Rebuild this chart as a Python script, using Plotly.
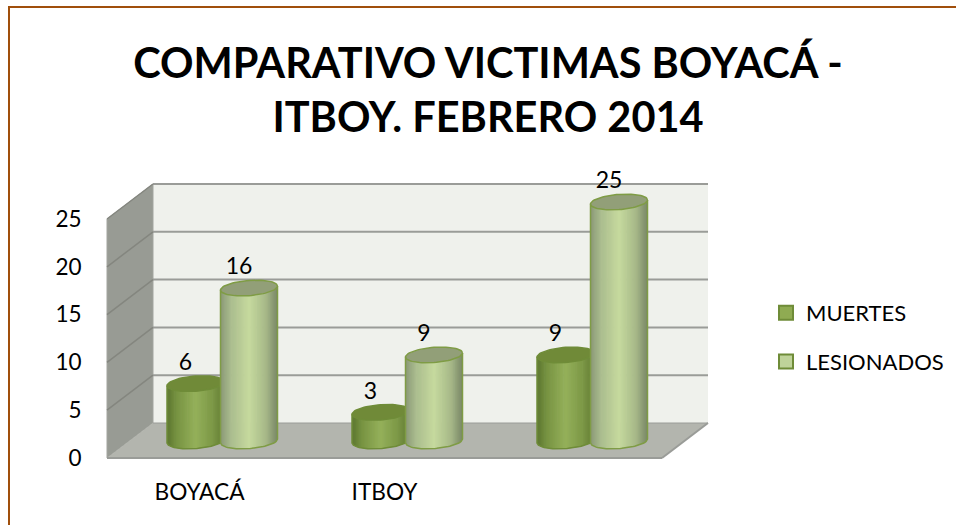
import numpy as np
import plotly.graph_objects as go

# ---------- data ----------
categories = ["BOYACÁ", "ITBOY", ""]
muertes = [6, 3, 9]
lesionados = [16, 9, 25]
y_ticks = [0, 5, 10, 15, 20, 25]
chart_title = "COMPARATIVO VICTIMAS BOYACÁ -<br>ITBOY. FEBRERO 2014"

# ---------- pixel frame of the axes ----------
W, H = 956, 525
PL, PR, PT, PB = 92, 950, 172, 466      # plot area in px (legend sits inside it)
PX_CAT, PX_UNIT = 185.0, 9.56           # px per category, px per value unit
X0_PX, Y0_PX = 199.5, 458.0             # px of first category / value 0
xr = [(PL - X0_PX) / PX_CAT, (PR - X0_PX) / PX_CAT]
yr = [(Y0_PX - PB) / PX_UNIT, (Y0_PX - PT) / PX_UNIT]

DX = 46 / PX_CAT        # depth of the box, x
DY = 35 / PX_UNIT       # depth of the box, y
AX_L = (107 - X0_PX) / PX_CAT
AX_R = AX_L + 3
TOP = y_ticks[-1]

RADIUS = 28.5 / PX_CAT
ELL_B = 7.6 / PX_UNIT
TILT = 2.0 / PX_UNIT
BASE_Y = 17.0 / PX_UNIT
N = 48


def lerp_color(stops, t):
    for (t0, c0), (t1, c1) in zip(stops, stops[1:]):
        if t <= t1:
            f = (t - t0) / (t1 - t0)
            return "rgb(%d,%d,%d)" % tuple(round(a + (b - a) * f) for a, b in zip(c0, c1))
    return "rgb(%d,%d,%d)" % stops[-1][1]


DARK = [(0, (92, 118, 48)), (0.18, (120, 148, 66)), (0.5, (148, 176, 90)), (0.8, (124, 152, 70)), (1, (96, 122, 50))]
LIGHT = [(0, (138, 152, 118)), (0.18, (170, 188, 142)), (0.5, (198, 218, 158)), (0.8, (166, 184, 136)), (1, (120, 134, 102))]


def circle_pts(cx, cy, n=72):
    xs, ys = [], []
    for i in range(n + 1):
        a = 2 * np.pi * i / n
        xs.append(cx + RADIUS * np.cos(a))
        ys.append(cy + ELL_B * np.sin(a) + TILT * np.cos(a))
    return xs, ys


def low_arc(u):
    return BASE_Y - ELL_B * np.sqrt(max(0.0, 1 - u * u)) + TILT * u


def cylinders(values, shift, stops, top_col, edge, name):
    out = []
    # one filled trace per shade; each holds a strip of every cylinder of the series
    for k in range(N):
        u0 = -1 + 2 * k / N
        u1 = min(1.0, -1 + 2 * (k + 1.6) / N)
        col = lerp_color(stops, (k + 0.5) / N)
        xs, ys = [], []
        for i, v in enumerate(values):
            cx = i + shift
            xs += [cx + u0 * RADIUS, cx + u1 * RADIUS, cx + u1 * RADIUS, cx + u0 * RADIUS, cx + u0 * RADIUS, None]
            ys += [low_arc(u0), low_arc(u1), BASE_Y + v + TILT * u1, BASE_Y + v + TILT * u0, low_arc(u0), None]
        out.append(go.Scatter(x=xs, y=ys, mode="lines", fill="toself", fillcolor=col, line=dict(width=0),
                              showlegend=False, hoverinfo="skip", name=name))
    for i, v in enumerate(values):
        cx = i + shift
        sx, sy = [cx - RADIUS, cx - RADIUS], [BASE_Y + v - TILT, BASE_Y - TILT]
        for k in range(41):
            u = -1 + 2 * k / 40
            sx.append(cx + u * RADIUS)
            sy.append(low_arc(u))
        sx += [cx + RADIUS]
        sy += [BASE_Y + v + TILT]
        out.append(go.Scatter(x=sx, y=sy, mode="lines", line=dict(color=edge, width=1.5),
                              showlegend=False, hoverinfo="skip"))
        ex, ey = circle_pts(cx, BASE_Y + v)
        out.append(go.Scatter(x=ex, y=ey, mode="lines", fill="toself", fillcolor=top_col,
                              line=dict(color=edge, width=1.5), showlegend=False, hoverinfo="skip"))
    return out


SHIFT_A, SHIFT_B = -4 / PX_CAT, 49.5 / PX_CAT
traces = []
traces += cylinders(muertes, SHIFT_A, DARK, "#708a38", "#6f8c38", "MUERTES")
traces += cylinders(lesionados, SHIFT_B, LIGHT, "#929f78", "#7f9c45", "LESIONADOS")

# data labels
LABEL_DY = 19.5 / PX_UNIT
LABEL_DX = -10 / PX_CAT
for vals, shift in ((muertes, SHIFT_A), (lesionados, SHIFT_B)):
    traces.append(go.Scatter(
        x=[i + shift + LABEL_DX for i in range(len(vals))],
        y=[BASE_Y + v + LABEL_DY for v in vals],
        text=[str(v) for v in vals], mode="text", textposition="middle center",
        textfont=dict(family="Lato", size=23, color="#000000"),
        cliponaxis=False, showlegend=False, hoverinfo="skip"))

# legend keys
for nm, fc, lc in (("MUERTES", "#8fab52", "#6f8c38"), ("LESIONADOS", "#bfd39a", "#6f8c38")):
    traces.append(go.Scatter(x=[None], y=[None], mode="markers", name=nm, legendgroup=nm,
                             marker=dict(symbol="square", size=14, color=fc, line=dict(color=lc, width=2))))

fig = go.Figure(traces)

# box: walls, floor, gridlines
shapes = []
GRID = "#9a9c98"


def poly(pts, fill, line=None, w=0):
    path = "M " + " L ".join(f"{a},{b}" for a, b in pts) + " Z"
    return dict(type="path", path=path, xref="x", yref="y", fillcolor=fill, layer="below",
                line=dict(color=line or fill, width=w))


def seg(x0, y0, x1, y1, color, w):
    return dict(type="line", xref="x", yref="y", layer="below", x0=x0, x1=x1, y0=y0, y1=y1,
                line=dict(color=color, width=w))


shapes.append(poly([(AX_L + DX, DY), (AX_R + DX, DY), (AX_R + DX, DY + TOP), (AX_L + DX, DY + TOP)], "#eff1ec"))
shapes.append(poly([(AX_L, 0), (AX_L + DX, DY), (AX_L + DX, DY + TOP), (AX_L, TOP)], "#989b94", "#a3a59f", 1))
shapes.append(poly([(AX_L, 0), (AX_R, 0), (AX_R + DX, DY), (AX_L + DX, DY)], "#b3b5ae"))
for v in y_ticks[1:]:
    shapes.append(seg(AX_L + DX, v + DY, AX_R + DX, v + DY, GRID, 2))
    shapes.append(seg(AX_L, v, AX_L + DX, v + DY, "#84867f", 1.5))
shapes.append(seg(AX_L, 0, AX_R, 0, GRID, 2))
shapes.append(seg(AX_R, 0, AX_R + DX, DY, GRID, 2))
shapes.append(seg(AX_L + DX, DY, AX_R + DX, DY, GRID, 1))

# outer brown frame (paper coordinates derived from px)
pw, ph = PR - PL, PB - PT
fx = lambda p: (p - PL) / pw
fy = lambda p: (PB - p) / ph
BROWN = "#a04f0c"
shapes.append(dict(type="line", xref="paper", yref="paper", x0=fx(9), x1=fx(9), y0=fy(7), y1=fy(525), line=dict(color=BROWN, width=2)))
shapes.append(dict(type="line", xref="paper", yref="paper", x0=fx(8), x1=fx(956), y0=fy(7), y1=fy(7), line=dict(color=BROWN, width=2)))

fig.update_layout(
    width=W, height=H, autosize=False,
    margin=dict(l=PL, r=W - PR, t=PT, b=H - PB, pad=0, autoexpand=False),
    paper_bgcolor="white", plot_bgcolor="rgba(0,0,0,0)",
    shapes=shapes,
    title=dict(text=chart_title, x=488 / W, xanchor="center", y=1 - 78 / H, yanchor="middle",
               font=dict(family="Lato", size=41.5, color="#000000", weight="bold")),
    xaxis=dict(type="linear", range=xr, tickmode="array", tickvals=list(range(len(categories))), ticktext=categories,
               showgrid=False, zeroline=False, showline=False, ticks="outside", ticklen=6, tickcolor="rgba(0,0,0,0)",
               tickfont=dict(family="Lato", size=22.7, color="#000000")),
    yaxis=dict(range=yr, tickmode="array", tickvals=y_ticks, ticktext=[str(t) for t in y_ticks],
               showgrid=False, zeroline=False, showline=False, ticks="outside", ticklen=5, tickcolor="rgba(0,0,0,0)",
               tickfont=dict(family="Lato", size=22.5, color="#000000")),
    legend=dict(x=fx(766), y=fy(292), xanchor="left", yanchor="top", itemsizing="trace", tracegroupgap=17,
                traceorder="grouped", font=dict(family="Lato", size=22, color="#000000"), bgcolor="rgba(0,0,0,0)"),
    hovermode=False,
)
fig.write_html(
    "out.html",
    post_script="document.body.style.margin='0';",
    config={"displayModeBar": False},
)
